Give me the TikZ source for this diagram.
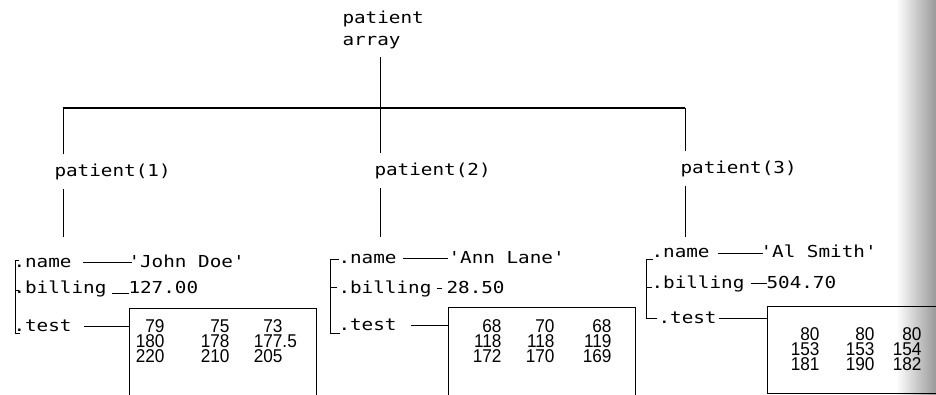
\documentclass[tikz,border=0pt]{standalone}
\usepackage{fontspec}
\newfontfamily\monof[FakeStretch=1.17,Ligatures=TeXOff]{DejaVu Sans Mono}
\newfontfamily\numf[FakeStretch=0.93]{Liberation Sans}
\begin{document}
\begin{tikzpicture}[x=1pt,y=-1pt,line width=1pt,
  mono/.style={font=\monof\fontsize{16.5}{18}\selectfont, inner xsep=0pt, inner ysep=0pt, text height=13pt, text depth=3pt, anchor=base west},
  lbl/.style={mono, inner ysep=9pt},
  num/.style={font=\numf\fontsize{18.5}{15}\selectfont, inner sep=0pt, text height=13pt, text depth=0pt, anchor=base east},
  matbox/.style={draw, anchor=north west, inner sep=0pt, line width=1pt},
  wire/.style={line width=0.9pt}]
\useasboundingbox (0,0) rectangle (936,395);
\clip (0,0) rectangle (936,395);
\shade[left color=white, right color=black!40] (896,0) rectangle (936,395);

% root
\node[mono] (root1) at (342,24) {patient};
\node[mono] (root2) at (342,46) {array};
\coordinate (rootend) at (380,57);
\coordinate (J1) at (63,108);
\coordinate (J2) at (380,108);
\coordinate (J3) at (685,108);
\draw[line width=1.4pt] (J1) -- (J3);
\draw[wire] (rootend) -- (J2);

% patient labels
\node[lbl] (p1) at (54,177) {patient(1)};
\node[lbl] (p2) at (374,176) {patient(2)};
\node[lbl] (p3) at (680,174) {patient(3)};
\coordinate (e1) at (63,237);
\coordinate (e2) at (380,237);
\coordinate (e3) at (685,237);
\draw[wire] (J1) -- (J1 |- p1.north);
\draw[wire] (J1 |- p1.south) -- (e1);
\draw[wire] (J2) -- (J2 |- p2.north);
\draw[wire] (J2 |- p2.south) -- (e2);
\draw[wire] (J3) -- (J3 |- p3.north);
\draw[wire] (J3 |- p3.south) -- (e3);

% ---------- block 1
\node[mono] (name1) at (13,267) {.name};
\node[mono] (val1) at (128,267) {'John Doe'};
\node[mono] (bill1) at (13,293) {.billing};
\node[mono] (bv1) at (128,293) {127.00};
\node[mono] (test1) at (13,331) {.test};
\node[matbox, minimum width=187pt, minimum height=110pt] (box1) at (129,308) {};
\draw[wire] (19,260) -- (15,260) -- (15,333) -- (20,333);
\draw[wire] (15,290) -- (19,290);
\draw[wire] ([xshift=11pt]name1.east) -- ([xshift=4pt]val1.west);
\draw[wire] ([xshift=5pt]bill1.base east) -- ([xshift=1pt]bv1.base west);
\draw[wire] ([xshift=12pt]test1.east) -- (test1.east -| box1.west);
\node[num] (a11) at (165,332) {79};
\node[num] (a12) at (230,332) {75};
\node[num] (a13) at (283,332) {73};
\node[num] (a21) at (165,347) {180};
\node[num] (a22) at (230,347) {178};
\node[num] (a23) at (283,347) {177\rlap{.5}};
\node[num] (a31) at (165,362) {220};
\node[num] (a32) at (230,362) {210};
\node[num] (a33) at (283,362) {205};

% ---------- block 2
\node[mono] (name2) at (338,263) {.name};
\node[mono] (val2) at (448,263) {'Ann Lane'};
\node[mono] (bill2) at (338,293) {.billing};
\node[mono] (bv2) at (446,293) {28.50};
\node[mono] (test2) at (338,330) {.test};
\node[matbox, minimum width=187pt, minimum height=110pt] (box2) at (448,307) {};
\draw[wire] (339,259) -- (330,259) -- (330,333) -- (340,333);
\draw[wire] (330,287) -- (337,287);
\draw[wire] ([xshift=6pt]name2.east) -- (val2.west);
\draw[wire] ([xshift=5pt]bill2.east) -- ([xshift=-4pt]bv2.west);
\draw[wire] ([xshift=14pt]test2.east) -- (test2.east -| box2.west);
\node[num] (b11) at (502,332) {68};
\node[num] (b12) at (555,332) {70};
\node[num] (b13) at (612,332) {68};
\node[num] (b21) at (502,347) {118};
\node[num] (b22) at (555,347) {118};
\node[num] (b23) at (612,347) {119};
\node[num] (b31) at (502,362) {172};
\node[num] (b32) at (555,362) {170};
\node[num] (b33) at (612,362) {169};

% ---------- block 3
\node[mono] (name3) at (651,258) {.name};
\node[mono] (val3) at (760,258) {'Al Smith'};
\node[mono] (bill3) at (651,288) {.billing};
\node[mono] (bv3) at (766,288) {504.70};
\node[mono] (test3) at (658,323) {.test};
\node[matbox, minimum width=200pt, minimum height=87pt] (box3) at (767,306) {};
\draw[wire] (653,259) -- (646,259) -- (646,318) -- (657,318);
\draw[wire] (646,287) -- (652,287);
\draw[wire] ([xshift=8pt]name3.east) -- ([xshift=3pt]val3.west);
\draw[wire] ([xshift=6pt]bill3.east) -- ([xshift=1pt]bv3.west);
\draw[wire] ([xshift=2pt]test3.east) -- (test3.east -| box3.west);
\node[num] (c11) at (820,340) {80};
\node[num] (c12) at (875,340) {80};
\node[num] (c13) at (922,340) {80};
\node[num] (c21) at (820,355) {153};
\node[num] (c22) at (875,355) {153};
\node[num] (c23) at (922,355) {154};
\node[num] (c31) at (820,370) {181};
\node[num] (c32) at (875,370) {190};
\node[num] (c33) at (922,370) {182};
\end{tikzpicture}
\end{document}
